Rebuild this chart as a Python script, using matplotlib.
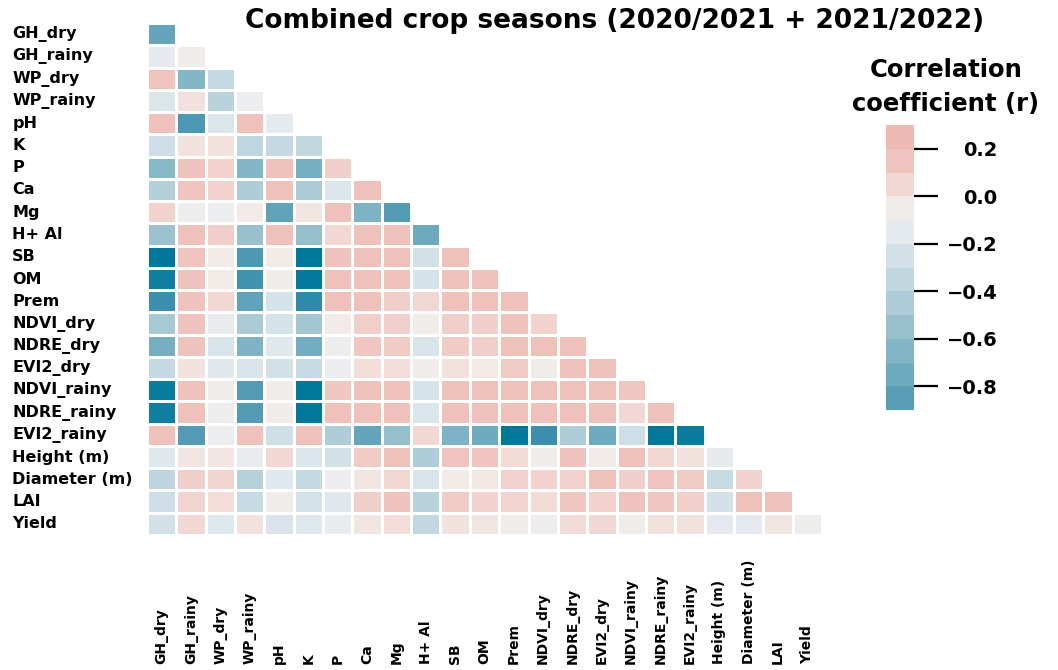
import numpy as np
import matplotlib
matplotlib.use("Agg")
import matplotlib.pyplot as plt
from matplotlib.colors import LinearSegmentedColormap, ListedColormap, BoundaryNorm, Normalize
from matplotlib.cm import ScalarMappable
import seaborn as sns

labels = ['GH_dry', 'GH_rainy', 'WP_dry', 'WP_rainy', 'pH', 'K', 'P', 'Ca', 'Mg',
          'H+ Al', 'SB', 'OM', 'Prem', 'NDVI_dry', 'NDRE_dry', 'EVI2_dry',
          'NDVI_rainy', 'NDRE_rainy', 'EVI2_rainy', 'Height (m)', 'Diameter (m)',
          'LAI', 'Yield']

# lower triangle, one list per row (row i holds columns 0..i)
gh_dry = [-0.80]
gh_rainy = [-0.15, -0.05]
wp_dry = [0.15, -0.65, -0.33]
wp_rainy = [-0.20, 0.02, -0.40, -0.10]
ph = [0.17, -0.87, -0.20, 0.18, -0.15]
k = [-0.28, 0.01, 0.02, -0.37, -0.33, -0.35]
p = [-0.63, 0.16, 0.08, -0.65, 0.17, -0.72, 0.10]
ca = [-0.43, 0.15, 0.08, -0.45, 0.18, -0.47, -0.20, 0.18]
mg = [0.08, -0.10, -0.10, -0.02, -0.82, 0.00, 0.18, -0.68, -0.86]
h_al = [-0.53, 0.18, 0.10, -0.55, 0.18, -0.56, 0.05, 0.18, 0.18, -0.76]
sb = [-1.00, 0.15, -0.02, -0.87, -0.03, -1.00, 0.16, 0.18, 0.18, -0.25, 0.18]
om = [-0.97, 0.16, -0.02, -0.89, -0.04, -0.99, 0.17, 0.18, 0.18, -0.24, 0.18, 0.18]
prem = [-0.90, 0.16, 0.06, -0.82, -0.24, -0.92, 0.18, 0.18, 0.10, 0.06, 0.17,
        0.17, 0.18]
ndvi_dry = [-0.48, 0.16, -0.13, -0.47, -0.24, -0.50, -0.02, 0.09, 0.09, -0.05, 0.10,
            0.10, 0.17, 0.08]
ndre_dry = [-0.72, 0.16, -0.22, -0.68, -0.18, -0.74, -0.08, 0.14, 0.12, -0.22, 0.11,
            0.10, 0.18, 0.17, 0.18]
evi2_dry = [-0.33, 0.01, -0.17, -0.22, -0.25, -0.32, -0.10, 0.03, 0.03, -0.06, 0.02,
            -0.02, 0.12, -0.03, 0.18, 0.18]
ndvi_rainy = [-0.98, 0.18, -0.04, -0.86, -0.06, -1.00, 0.13, 0.18, 0.18, -0.23, 0.18,
              0.18, 0.18, 0.18, 0.18, 0.18, 0.14]
ndre_rainy = [-0.97, 0.17, -0.09, -0.86, -0.06, -1.00, 0.17, 0.18, 0.18, -0.20, 0.18,
              0.18, 0.18, 0.18, 0.18, 0.17, 0.05, 0.18]
evi2_rainy = [0.18, -0.86, -0.11, 0.18, -0.27, 0.18, -0.45, -0.80, -0.56, 0.05, -0.68,
              -0.75, -1.00, -0.90, -0.45, -0.75, -0.28, -1.00, -0.98]
height = [-0.18, 0.00, 0.00, -0.13, 0.06, -0.20, -0.25, 0.12, 0.18, -0.45, 0.15,
          0.15, 0.04, -0.04, 0.16, -0.03, 0.18, 0.06, 0.01, -0.15]
diameter = [-0.38, 0.10, 0.07, -0.42, -0.18, -0.33, -0.10, 0.00, 0.06, -0.22, -0.02,
            -0.01, 0.08, 0.08, 0.08, 0.18, 0.10, 0.15, 0.12, -0.32, 0.08]
lai = [-0.28, 0.07, 0.03, -0.32, -0.06, -0.24, -0.18, 0.10, 0.16, -0.40, 0.11,
       0.08, 0.07, 0.04, 0.14, 0.08, 0.16, 0.14, 0.09, -0.25, 0.18, 0.18]
yield_ = [-0.25, 0.05, -0.18, 0.01, -0.22, -0.19, -0.13, 0.00, 0.03, -0.35, 0.01,
          0.00, -0.04, -0.08, 0.04, 0.05, -0.06, 0.01, 0.01, -0.16, -0.16, 0.00, -0.08]

rows = [gh_dry, gh_rainy, wp_dry, wp_rainy, ph, k, p, ca, mg, h_al, sb, om, prem,
        ndvi_dry, ndre_dry, evi2_dry, ndvi_rainy, ndre_rainy, evi2_rainy, height,
        diameter, lai, yield_]

n = len(labels)
mat = np.full((n, n), np.nan)
for i, row in enumerate(rows):
    mat[i, :len(row)] = row

# blue -> pale -> salmon, defined on r values
vmin, vmax = -1.0, 0.3
anchors = [(-1.00, '#00789a'), (-0.90, '#3d90ad'), (-0.85, '#5a9fb6'),
           (-0.70, '#7ab1c4'), (-0.55, '#98c0cd'), (-0.40, '#b9d3dd'),
           (-0.25, '#d2e1e8'), (-0.12, '#eaedf0'), (-0.03, '#f1ece8'),
           (0.05, '#f2d8d4'), (0.15, '#efc4be'), (0.30, '#ebb5ad')]
cmap = LinearSegmentedColormap.from_list(
    'corr', [((v - vmin) / (vmax - vmin), c) for v, c in anchors])
cell_norm = Normalize(vmin, vmax)

plt.rcParams['font.family'] = ['DejaVu Sans']
plt.rcParams['font.weight'] = 'bold'

fig = plt.figure(figsize=(10.58, 6.70), dpi=100)
ax = fig.add_axes([147 / 1058, 1 - 535 / 670, 675 / 1058, 512 / 670])
sns.heatmap(mat, ax=ax, cmap=cmap, vmin=vmin, vmax=vmax, linewidths=0.8,
            linecolor='white', cbar=False)

ax.set_xticks(np.arange(n) + 0.5)
ax.set_xticklabels(labels, rotation=90, fontsize=10, fontweight='bold',
                   ha='center', va='bottom')
ax.tick_params(axis='x', length=0, pad=93)
ax.set_yticks(np.arange(n) + 0.5)
ax.set_yticklabels(labels, rotation=0, fontsize=11.5, fontweight='bold',
                   ha='left', va='center')
ax.tick_params(axis='y', length=0, pad=97)

# stepped colour bar, 0.1 per band
bounds = np.linspace(-0.9, 0.3, 13)
centers = (bounds[:-1] + bounds[1:]) / 2
bar_cmap = ListedColormap([cmap(cell_norm(c)) for c in centers])
bar_norm = BoundaryNorm(bounds, bar_cmap.N)
cax = fig.add_axes([886 / 1058, 1 - 410 / 670, 28 / 1058, 285 / 670])
cb = fig.colorbar(ScalarMappable(norm=bar_norm, cmap=bar_cmap), cax=cax,
                  ticks=[0.2, 0.0, -0.2, -0.4, -0.6, -0.8])
cb.outline.set_visible(False)
cb.minorticks_off()
cb.set_ticklabels(['0.2', '0.0', '\u22120.2', '\u22120.4', '\u22120.6', '\u22120.8'])
cax.tick_params(which='minor', length=0)
cax.tick_params(which='major', length=17, width=1.6, direction='out', pad=43,
                labelsize=14)
for t in cax.get_yticklabels():
    t.set_ha('right')
    t.set_fontweight('bold')

fig.text(615 / 1058, 1 - 21 / 670, 'Combined crop seasons (2020/2021 + 2021/2022)',
         ha='center', va='center', fontsize=19, fontweight='bold')
fig.text(946 / 1058, 1 - 87 / 670, 'Correlation\ncoefficient (r)', ha='center',
         va='center', fontsize=17.5, fontweight='bold', linespacing=1.55)

fig.savefig('out.png', dpi=100)
